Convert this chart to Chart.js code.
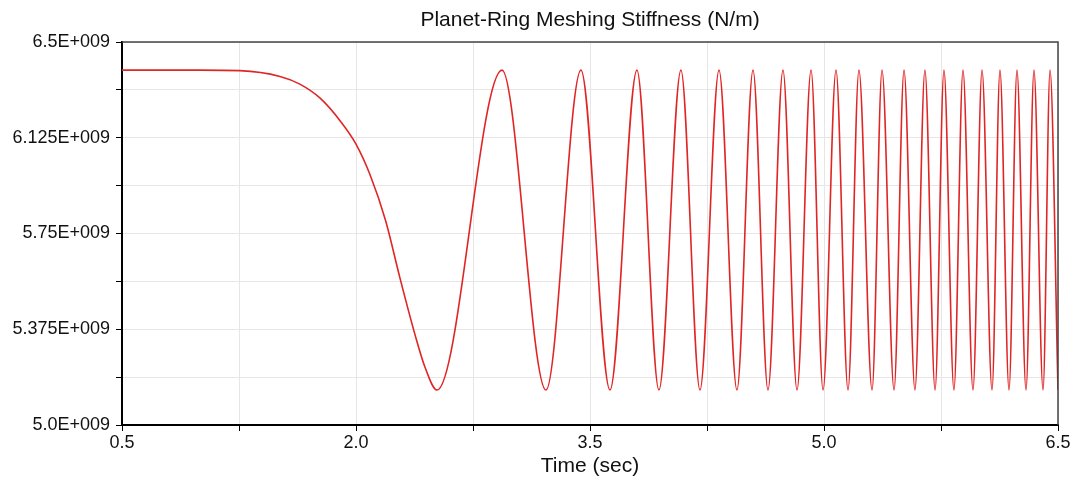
<!DOCTYPE html>
<html>
<head>
<meta charset="utf-8">
<script src="https://cdn.jsdelivr.net/npm/chart.js@4.4.1/dist/chart.umd.min.js"></script>
<style>
  html, body { margin: 0; padding: 0; background: #fff; }
  #chart { display: block; }
</style>
</head>
<body>
<canvas id="chart" width="1073" height="483"></canvas>
<script>
// ===== DADOS =====
const timeSec = [
  0.5, 1.0, 1.256, 1.513, 1.64, 1.77, 1.9, 2.0, 2.09, 2.19, 2.28, 2.38, 2.44, 2.519,
  2.936, 3.218, 3.442, 3.628, 3.801, 3.942, 4.083, 4.205, 4.327, 4.442,
  4.545, 4.641, 4.737, 4.827, 4.917, 4.994, 5.077, 5.154, 5.224, 5.308,
  5.372, 5.449, 5.513, 5.583, 5.647, 5.712, 5.769, 5.833, 5.891, 5.955,
  6.013, 6.077, 6.128, 6.186, 6.237, 6.295, 6.346, 6.404, 6.449, 6.5
];
const stiffness = [
  6.39e9, 6.39e9, 6.388e9, 6.365e9, 6.335e9, 6.28e9, 6.19e9, 6.10e9, 5.98e9, 5.80e9, 5.58e9, 5.35e9, 5.23e9, 5.137e9,
  6.39e9, 5.137e9, 6.39e9, 5.137e9, 6.39e9, 5.137e9, 6.39e9, 5.137e9, 6.39e9, 5.137e9,
  6.39e9, 5.137e9, 6.39e9, 5.137e9, 6.39e9, 5.137e9, 6.39e9, 5.137e9, 6.39e9, 5.137e9,
  6.39e9, 5.137e9, 6.39e9, 5.137e9, 6.39e9, 5.137e9, 6.39e9, 5.137e9, 6.39e9, 5.137e9,
  6.39e9, 5.137e9, 6.39e9, 5.137e9, 6.39e9, 5.137e9, 6.39e9, 5.137e9, 6.39e9, 5.137e9
];
const xTickLabels = ['0.5', '', '2.0', '', '3.5', '', '5.0', '', '6.5'];
const yTickLabels = ['5.0E+009', '', '5.375E+009', '', '5.75E+009', '', '6.125E+009', '', '6.5E+009'];

const FONT = 'Liberation Sans, Arial, sans-serif';

// titulo + moldura por cima da area do grafico
const framePlugin = {
  id: 'frame',
  afterDraw(chart) {
    const { ctx, chartArea: a } = chart;
    ctx.save();
    ctx.strokeStyle = '#444';
    ctx.lineWidth = 1.5;
    ctx.beginPath();
    ctx.moveTo(a.left, a.top);
    ctx.lineTo(a.right, a.top);
    ctx.lineTo(a.right, a.bottom);
    ctx.stroke();
    ctx.fillStyle = '#111';
    ctx.font = '21px ' + FONT;
    ctx.textAlign = 'center';
    ctx.textBaseline = 'middle';
    ctx.fillText('Planet-Ring Meshing Stiffness (N/m)', (a.left + a.right) / 2, 20);
    ctx.restore();
  }
};

const ctx = document.getElementById('chart').getContext('2d');
new Chart(ctx, {
  type: 'line',
  data: {
    datasets: [{
      data: timeSec.map((t, i) => ({ x: t, y: stiffness[i] })),
      borderColor: '#e02525',
      borderWidth: 1.6,
      pointRadius: 0,
      cubicInterpolationMode: 'monotone',
      fill: false
    }]
  },
  options: {
    responsive: false,
    animation: false,
    layout: { padding: { top: 42, right: 15, left: 0, bottom: 0 } },
    plugins: { legend: { display: false }, tooltip: { enabled: false }, title: { display: false } },
    scales: {
      x: {
        type: 'linear',
        min: 0.5,
        max: 6.5,
        afterFit: s => { s.height = 58; },
        ticks: {
          stepSize: 0.75,
          autoSkip: false,
          maxRotation: 0,
          padding: 1,
          color: '#111',
          font: { family: FONT, size: 18 },
          callback: (v, i) => xTickLabels[i]
        },
        grid: { color: '#e6e6e6', tickColor: '#000', tickLength: 6 },
        border: { color: '#000', width: 2 },
        title: {
          display: true,
          text: 'Time (sec)',
          color: '#111',
          font: { family: FONT, size: 21 },
          padding: { top: 0, bottom: 4 }
        }
      },
      y: {
        min: 5.0e9,
        max: 6.5e9,
        afterFit: s => { s.width = 122; },
        ticks: {
          stepSize: 0.1875e9,
          autoSkip: false,
          padding: 6,
          color: '#111',
          font: { family: FONT, size: 18 },
          callback: (v, i) => yTickLabels[i]
        },
        grid: { color: '#e6e6e6', tickColor: '#000', tickLength: 6 },
        border: { color: '#000', width: 2 }
      }
    }
  },
  plugins: [framePlugin]
});
</script>
</body>
</html>
